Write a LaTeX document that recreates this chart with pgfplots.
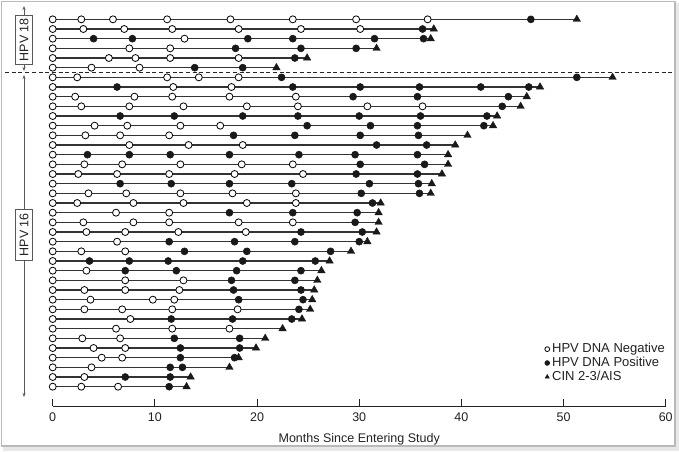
\documentclass[border=0pt]{standalone}
\usepackage{fontspec}
\setmainfont{Liberation Sans}
\usepackage{pgfplots}
\usepackage{pgfplotstable}
\pgfplotsset{compat=1.18}
\usetikzlibrary{arrows.meta}

% swimmer rows: x = months, r = row (0 = top)
\pgfplotstableread[row sep=\\]{x r\\
0 0\\2.8 0\\5.9 0\\11.2 0\\17.4 0\\23.5 0\\29.7 0\\36.7 0\\
0 1\\3.0 1\\7.0 1\\11.7 1\\18.2 1\\24.3 1\\30.1 1\\
0 2\\12.9 2\\
0 3\\7.5 3\\11.5 3\\
0 4\\5.5 4\\8.1 4\\11.5 4\\18.2 4\\
0 5\\3.8 5\\8.5 5\\
0 6\\2.4 6\\11.2 6\\14.3 6\\18.2 6\\
0 7\\11.8 7\\17.5 7\\
0 8\\2.2 8\\8.0 8\\11.7 8\\17.3 8\\23.8 8\\
0 9\\2.8 9\\7.5 9\\12.8 9\\19.0 9\\24.0 9\\30.8 9\\36.2 9\\
0 10\\
0 11\\4.1 11\\7.3 11\\12.5 11\\16.4 11\\
0 12\\3.2 12\\6.6 12\\11.4 12\\
0 13\\7.5 13\\13.3 13\\18.6 13\\
0 14\\
0 15\\3.1 15\\6.8 15\\12.5 15\\18.5 15\\23.5 15\\
0 16\\2.5 16\\6.3 16\\11.4 16\\17.8 16\\24.5 16\\
0 17\\
0 18\\3.5 18\\7.2 18\\12.5 18\\17.6 18\\23.8 18\\
0 19\\2.4 19\\7.9 19\\12.8 19\\19.0 19\\23.8 19\\
0 20\\6.2 20\\11.4 20\\
0 21\\3.0 21\\7.9 21\\11.4 21\\18.2 21\\23.5 21\\
0 22\\3.3 22\\7.1 22\\12.3 22\\18.9 22\\
0 23\\6.3 23\\
0 24\\2.8 24\\7.1 24\\
0 25\\
0 26\\3.3 26\\
0 27\\7.1 27\\12.8 27\\
0 28\\3.1 28\\7.1 28\\12.4 28\\
0 29\\3.7 29\\9.8 29\\11.9 29\\
0 30\\3.1 30\\6.8 30\\11.7 30\\18.1 30\\
0 31\\7.6 31\\
0 32\\6.2 32\\11.7 32\\17.3 32\\
0 33\\2.9 33\\6.6 33\\
0 34\\4.0 34\\7.1 34\\
0 35\\4.8 35\\6.8 35\\
0 36\\3.8 36\\
0 37\\3.1 37\\
0 38\\2.8 38\\6.4 38\\
}\negtab

\pgfplotstableread[row sep=\\]{x r\\
46.8 0\\
36.2 1\\
4.0 2\\7.8 2\\19.1 2\\23.5 2\\31.5 2\\36.3 2\\
17.9 3\\24.3 3\\29.7 3\\
23.7 4\\
13.9 5\\18.6 5\\
22.4 6\\51.3 6\\
6.3 7\\23.5 7\\30.1 7\\35.9 7\\41.9 7\\46.6 7\\
29.4 8\\35.7 8\\44.6 8\\
44.0 9\\
6.6 10\\11.9 10\\18.6 10\\24.0 10\\30.0 10\\36.0 10\\42.5 10\\
24.9 11\\31.1 11\\35.7 11\\42.2 11\\
17.7 12\\23.7 12\\30.1 12\\35.8 12\\
31.7 13\\36.6 13\\
3.4 14\\7.5 14\\11.5 14\\17.3 14\\24.1 14\\29.6 14\\35.7 14\\
30.1 15\\36.4 15\\
29.7 16\\35.7 16\\
6.6 17\\11.6 17\\17.3 17\\23.4 17\\31.0 17\\35.8 17\\
30.2 18\\35.9 18\\
31.3 19\\
17.3 20\\23.5 20\\29.8 20\\
29.6 21\\
24.3 22\\30.3 22\\
11.4 23\\17.8 23\\23.7 23\\30.0 23\\
12.9 24\\19.0 24\\27.2 24\\
3.6 25\\7.5 25\\11.3 25\\18.6 25\\25.7 25\\
7.1 26\\12.1 26\\18.0 26\\24.3 26\\
17.5 27\\23.7 27\\
17.7 28\\24.3 28\\
18.2 29\\24.5 29\\
24.1 30\\
11.6 31\\17.6 31\\23.4 31\\
11.9 33\\18.3 33\\
12.5 34\\18.3 34\\
12.5 35\\17.8 35\\
11.5 36\\12.7 36\\
7.1 37\\11.5 37\\
11.4 38\\
}\postab

\pgfplotstableread[row sep=\\]{x r\\
51.3 0\\37.3 1\\37.0 2\\31.7 3\\24.9 4\\21.9 5\\54.8 6\\47.7 7\\46.4 8\\45.8 9\\
43.5 10\\43.1 11\\40.6 12\\39.4 13\\38.7 14\\38.7 15\\38.1 16\\37.1 17\\37.0 18\\32.1 19\\
31.9 20\\31.9 21\\31.7 22\\30.8 23\\29.2 24\\27.1 25\\26.3 26\\25.9 27\\25.6 28\\25.4 29\\
25.2 30\\24.4 31\\22.5 32\\20.8 33\\19.9 34\\18.2 35\\17.3 36\\13.5 37\\13.1 38\\
}\cintab

\definecolor{txt}{HTML}{222222}
\definecolor{swim}{HTML}{333333}

\begin{document}
\fontsize{12.5}{15}\selectfont
\begin{tikzpicture}
\useasboundingbox (0,0) rectangle (679pt,451pt);
% frame
\fill[gray!18] (3pt,0pt) rectangle (679pt,448pt);
\draw[gray!55, fill=white, line width=1.2pt] (1.5pt,449.5pt) rectangle (675pt,5pt);

\begin{axis}[
  at={(52.7pt,45pt)}, anchor=south west,
  scale only axis, width=613pt, height=406pt,
  xmin=0, xmax=60, ymin=-2, ymax=40, y dir=reverse,
  axis x line*=bottom, axis y line=none,
  x axis line style={-, line width=0.8pt, txt},
  xtick={0,10,...,60}, tick align=inside,
  major tick length=7pt,
  tick style={line width=0.8pt, txt},
  /pgf/number format/assume math mode=true,
  xticklabel style={anchor=base, yshift=-15.5pt, text=txt},
  xlabel={Months Since Entering Study},
  xlabel style={at={(axis description cs:0.5,0)}, anchor=base, yshift=-36.5pt, text=txt},
  clip=false,
  legend style={at={(0.8025,0.1576)}, anchor=north west, draw=none, fill=none,
    inner sep=0pt, row sep=0pt, text=txt, font=\fontsize{13}{15}\selectfont,
    nodes={inner xsep=2.5pt, inner ysep=0.8pt, text height=0.76em, text depth=0.22em}},
  legend cell align=left,
  legend image code/.code={\draw[#1, mark size=2.4pt] plot coordinates {(0pt,0pt)};},
]
\addplot[xcomb, swim, line width=1.4pt, forget plot] table[x=x, y=r] {\cintab};
\addplot[only marks, mark=*, mark size=3.5pt, mark options={fill=white, draw=black, line width=0.8pt}]
  table[x=x, y=r] {\negtab};
\addplot[only marks, mark=*, mark size=3.5pt, mark options={fill=black!90, draw=black!90, line width=0.6pt}]
  table[x=x, y=r] {\postab};
\addplot[only marks, mark=triangle*, mark size=4.3pt, mark options={fill=black!90, draw=black!90, line width=0.4pt}]
  table[x=x, y=r] {\cintab};
\legend{HPV DNA Negative, HPV DNA Positive, CIN 2-3/AIS}
\end{axis}

% group divider
\draw[gray!30!black, line width=0.8pt, dash pattern=on 4pt off 2.7pt] (5pt,378.5pt) -- (674pt,378.5pt);

% group labels with arrows
\draw[gray!70!black, line width=0.6pt, -{Stealth[length=4pt,width=3pt]}] (24pt,436pt) -- (24pt,445pt);
\draw[gray!70!black, line width=0.6pt, -{Stealth[length=4pt,width=3pt]}] (24pt,386.7pt) -- (24pt,380pt);
\node[draw=gray!70!black, line width=0.6pt, rotate=90, minimum width=49.3pt, minimum height=16.6pt,
  inner sep=0pt, text=txt] at (24pt,411.35pt) {HPV 18};
\draw[gray!70!black, line width=0.6pt, -{Stealth[length=4pt,width=3pt]}] (24pt,241.7pt) -- (24pt,376pt);
\draw[gray!70!black, line width=0.6pt, -{Stealth[length=4pt,width=3pt]}] (24pt,191pt) -- (24pt,54pt);
\node[draw=gray!70!black, line width=0.6pt, rotate=90, minimum width=50.7pt, minimum height=16.6pt,
  inner sep=0pt, text=txt] at (24pt,216.35pt) {HPV 16};
\end{tikzpicture}
\end{document}
